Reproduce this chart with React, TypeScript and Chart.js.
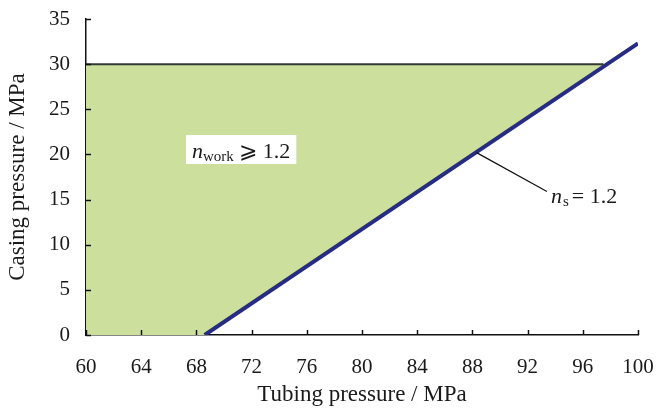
import React, { useEffect, useRef } from "react";
import { Chart, registerables } from "chart.js";

Chart.register(...registerables);

// ---- data ----
const xTicks = [60, 64, 68, 72, 76, 80, 84, 88, 92, 96, 100];
const yTicks = [0, 5, 10, 15, 20, 25, 30, 35];
// n_s = 1.2 boundary line (tubing, casing)
const nsX = [68.6, 100];
const nsY = [0, 32.3];
// casing pressure limit
const limitX = [60, 97.5];
const limitY = [30, 30];
// lower boundary of the feasible region
const lowerX = [60, 68.6, 97.5];
const lowerY = [0, 0, 30];
// annotation anchors
const leaderX = [88.3, 93.4];
const leaderY = [20.2, 15.9];

const FONT = "'Liberation Serif', 'Times New Roman', serif";
const TXT = "#1a1a1a";

const pts = (xs: number[], ys: number[]) => xs.map((x, i) => ({ x, y: ys[i] }));

const annotPlugin = {
  id: "annot",
  afterDraw(chart: any) {
    const { ctx, scales } = chart;
    const xs = scales.x;
    const ys = scales.y;
    const area = chart.chartArea;
    ctx.save();
    // inner ticks
    ctx.strokeStyle = "#111";
    ctx.lineWidth = 1.5;
    xTicks.forEach((v) => {
      const px = Math.round(xs.getPixelForValue(v)) + 0.5;
      ctx.beginPath();
      ctx.moveTo(px, area.bottom);
      ctx.lineTo(px, area.bottom - 5);
      ctx.stroke();
    });
    yTicks.forEach((v) => {
      const py = Math.round(ys.getPixelForValue(v)) + 0.5;
      ctx.beginPath();
      ctx.moveTo(area.left, py);
      ctx.lineTo(area.left + 5, py);
      ctx.stroke();
    });

    // leader line for n_s
    const lx0 = xs.getPixelForValue(leaderX[0]);
    const ly0 = ys.getPixelForValue(leaderY[0]);
    const lx1 = xs.getPixelForValue(leaderX[1]);
    const ly1 = ys.getPixelForValue(leaderY[1]);
    ctx.strokeStyle = "#111";
    ctx.lineWidth = 1.2;
    ctx.beginPath();
    ctx.moveTo(lx0, ly0);
    ctx.lineTo(lx1, ly1);
    ctx.stroke();

    // n_s = 1.2 label
    ctx.fillStyle = TXT;
    ctx.textBaseline = "alphabetic";
    ctx.textAlign = "left";
    let tx = lx1 + 4;
    const tb = ly1 + 12;
    ctx.font = `italic 22px ${FONT}`;
    ctx.fillText("n", tx, tb);
    tx += ctx.measureText("n").width + 1;
    ctx.font = `15px ${FONT}`;
    ctx.fillText("s", tx, tb + 3);
    tx += ctx.measureText("s").width + 3;
    ctx.font = `22px ${FONT}`;
    ctx.fillText("= 1.2", tx, tb);

    // n_work >= 1.2 boxed label
    const bx = 186;
    const by = 135;
    ctx.font = `italic 22px ${FONT}`;
    const w1 = ctx.measureText("n").width;
    ctx.font = `15px ${FONT}`;
    const w2 = ctx.measureText("work").width;
    ctx.font = `22px ${FONT}`;
    const w3 = ctx.measureText(" \u2A7E 1.2").width;
    const boxW = w1 + w2 + w3 + 12;
    ctx.fillStyle = "#ffffff";
    ctx.fillRect(bx, by, boxW, 29);
    ctx.fillStyle = TXT;
    let nx = bx + 6;
    const nb = by + 23;
    ctx.font = `italic 22px ${FONT}`;
    ctx.fillText("n", nx, nb);
    nx += w1;
    ctx.font = `15px ${FONT}`;
    ctx.fillText("work", nx, nb + 3);
    nx += w2;
    ctx.font = `22px ${FONT}`;
    ctx.fillText(" \u2A7E 1.2", nx, nb);
    ctx.restore();
  },
};

export default function App() {
  const ref = useRef<HTMLCanvasElement>(null);
  useEffect(() => {
    document.body.style.margin = "0";
    const chart = new Chart(ref.current as HTMLCanvasElement, {
      type: "line",
      data: {
        datasets: [
          {
            data: pts(limitX, limitY),
            borderColor: "#333a33",
            borderWidth: 2,
            pointRadius: 0,
            fill: false,
            order: 2,
          },
          {
            data: pts(lowerX, lowerY),
            borderColor: "rgba(0,0,0,0)",
            borderWidth: 0,
            pointRadius: 0,
            backgroundColor: "#ccdf9d",
            fill: "-1",
            order: 3,
          },
          {
            data: pts(nsX, nsY),
            borderColor: "#262c82",
            borderWidth: 4,
            pointRadius: 0,
            fill: false,
            order: 1,
          },
        ],
      },
      options: {
        animation: false,
        responsive: false,
        parsing: false,
        plugins: { legend: { display: false }, tooltip: { enabled: false } },
        layout: { padding: { top: 19, right: 18, left: 0, bottom: 0 } },
        scales: {
          x: {
            type: "linear",
            min: 60,
            max: 100,
            afterFit: (s: any) => {
              s.height = 75;
              s.paddingLeft = 0;
              s.paddingRight = 0;
            },
            afterBuildTicks: (s: any) => {
              s.ticks = xTicks.map((v) => ({ value: v }));
            },
            grid: { display: true, drawOnChartArea: false, drawTicks: false },
            border: { display: true, color: "#111", width: 1.5 },
            ticks: {
              color: TXT,
              font: { family: FONT, size: 21 },
              padding: 20,
              maxRotation: 0,
              autoSkip: false,
            },
            title: {
              display: true,
              text: "Tubing pressure / MPa",
              color: TXT,
              font: { family: FONT, size: 23 },
              padding: { top: 0, bottom: 1 },
            },
          },
          y: {
            type: "linear",
            min: 0,
            max: 35,
            afterFit: (s: any) => {
              s.width = 86;
              s.paddingTop = 0;
              s.paddingBottom = 0;
            },
            afterBuildTicks: (s: any) => {
              s.ticks = yTicks.map((v) => ({ value: v }));
            },
            grid: { display: true, drawOnChartArea: false, drawTicks: false },
            border: { display: true, color: "#111", width: 1.5 },
            ticks: {
              color: TXT,
              font: { family: FONT, size: 21 },
              padding: 16,
              autoSkip: false,
            },
            title: {
              display: true,
              text: "Casing pressure / MPa",
              color: TXT,
              font: { family: FONT, size: 23 },
              padding: { top: 4, bottom: 0 },
            },
          },
        },
      },
      plugins: [annotPlugin],
    } as any);
    return () => chart.destroy();
  }, []);
  return (
    <div style={{ width: 656, height: 410, background: "#fff" }}>
      <canvas ref={ref} width={656} height={410} style={{ display: "block" }} />
    </div>
  );
}
